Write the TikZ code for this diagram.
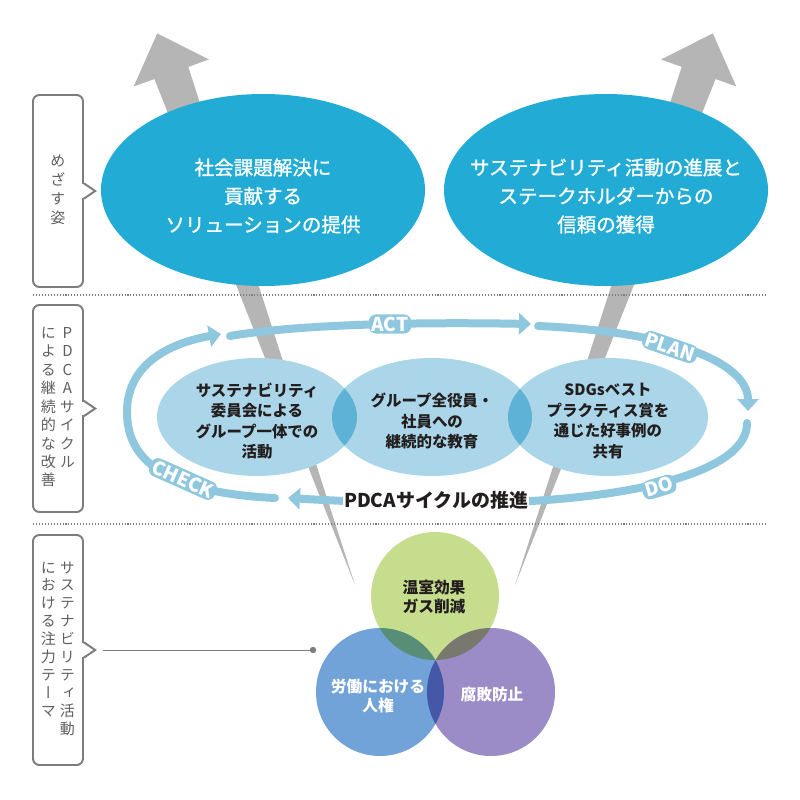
\documentclass[tikz,border=0pt]{standalone}
\usepackage{fontspec}
\setmainfont{Noto Sans CJK JP}
\newfontfamily\vjp[RawFeature=+vert]{Noto Sans CJK JP}
\newfontfamily\jpmed[FakeBold=1.2]{Noto Sans CJK JP}
\usetikzlibrary{shapes.geometric,arrows.meta}

\definecolor{goalblue}{RGB}{34,172,213}
\definecolor{actblue}{RGB}{171,214,234}
\definecolor{lapblue}{RGB}{94,178,214}
\definecolor{cycblue}{RGB}{142,199,222}
\definecolor{wedge}{RGB}{181,181,181}
\definecolor{tagline}{RGB}{125,125,125}
\definecolor{tagtext}{RGB}{95,95,95}
\definecolor{ghgcol}{RGB}{198,221,142}
\definecolor{laborcol}{RGB}{114,163,216}
\definecolor{graftcol}{RGB}{155,139,198}
\definecolor{ink}{RGB}{35,30,30}

\begin{document}
\begin{tikzpicture}[x=0.25mm, y=-0.25mm,
        goal/.style = {ellipse, fill=goalblue, minimum width=81mm, minimum height=48mm, inner sep=0},
        goaltext/.style = {text=white, align=center, font=\jpmed\fontsize{13.9pt}{20.3pt}\selectfont},
        act/.style = {ellipse, fill=actblue, minimum width=50mm, minimum height=29.5mm, inner sep=0},
        acttext/.style = {text=ink, align=center, font=\fontsize{11pt}{14.6pt}\selectfont\bfseries},
        cyc/.style = {draw=cycblue, line width=2mm, line cap=round, -{Triangle[width=5.3mm, length=3mm]}},
        cyclabel/.style = {fill=cycblue, text=white, rounded corners=1.8mm, inner xsep=2pt, inner ysep=1.6pt, font=\fontsize{13.5pt}{13.5pt}\selectfont\bfseries},
        theme/.style = {circle, minimum size=32mm, inner sep=0},
        themetext/.style = {align=center, font=\fontsize{11.2pt}{14.2pt}\selectfont\bfseries},
        tag/.style = {draw=tagline, line width=1.4pt, rounded corners=1.6mm, minimum width=12.5mm, inner sep=0, text=tagtext},
        sep/.style = {draw=tagline, line width=0.8pt, dash pattern=on 0.75pt off 1.35pt},
        lead/.style = {draw=tagline, line width=0.7pt},
        pin/.style = {circle, fill=tagline, inner sep=0, minimum size=1.6mm}]
    \useasboundingbox (0,0) rectangle (800,800);

    % grey arrows behind everything
    \begin{scope}[shift={(355,585)}, rotate=109.73]
        \fill[wedge] (0,0) -- (544,18) -- (544,40) -- (586,0) -- (544,-40) -- (544,-18) -- cycle;
    \end{scope}
    \begin{scope}[shift={(515,585)}, rotate=70.27]
        \fill[wedge] (0,0) -- (544,18) -- (544,40) -- (586,0) -- (544,-40) -- (544,-18) -- cycle;
    \end{scope}

    \draw[sep] (33,295) -- (768,295);
    \draw[sep] (33,524) -- (768,524);

    % goals
    \node[goal] (goalL) at (263,190) {};
    \node[goal] (goalR) at (606,190) {};
    \node[goaltext] (goalLtext) at (263,196) {社会課題解決に\\貢献する\\ソリューションの提供};
    \node[goaltext] (goalRtext) at (606,196) {サステナビリティ活動の進展と\\ステークホルダーからの\\信頼の獲得};

    % PDCA
    \node[act] (actL) at (257,417) {};
    \node[act] (actM) at (432,417) {};
    \node[act] (actR) at (608,417) {};
    \begin{scope}
        \clip (actL.center) ellipse [x radius=25mm, y radius=14.75mm];
        \fill[lapblue] (actM.center) ellipse [x radius=25mm, y radius=14.75mm];
    \end{scope}
    \begin{scope}
        \clip (actM.center) ellipse [x radius=25mm, y radius=14.75mm];
        \fill[lapblue] (actR.center) ellipse [x radius=25mm, y radius=14.75mm];
    \end{scope}
    \node[acttext] (actLtext) at (257,421) {サステナビリティ\\委員会による\\グループ一体での\\活動};
    \node[acttext] (actMtext) at (432,421) {グループ全役員・\\社員への\\継続的な教育};
    \node[acttext] (actRtext) at (608,421) {SDGsベスト\\プラクティス賞を\\通じた好事例の\\共有};

    \draw[cyc] (230,336) .. controls (300,324) and (420,322) .. (531,324);
    \draw[cyc] (538,326) .. controls (680,332) and (748,365) .. (748,411);
    \draw[cyc] (747,423) .. controls (748,470) and (640,500) .. (480,503) .. controls (400,504) and (340,501) .. (288,498);
    \draw[cyc] (275,498) .. controls (150,492) and (127,450) .. (127,412) .. controls (127,370) and (160,345) .. (221,334);
    \node[cyclabel] (act) at (390,324) {ACT};
    \node[cyclabel, rotate=-19] (plan) at (670,347) {PLAN};
    \node[cyclabel, rotate=17] (do) at (659,487) {DO};
    \node[cyclabel, rotate=-24] (check) at (183,479) {CHECK};
    \node[fill=white, text=ink, inner xsep=1pt, inner ysep=0.5pt, font=\fontsize{13.5pt}{13.5pt}\selectfont\bfseries] (pdca) at (436,500) {PDCAサイクルの推進};

    % themes
    \begin{scope}[blend group=multiply]
        \node[theme, fill=ghgcol] (ghg) at (435,596) {};
        \node[theme, fill=laborcol] (labor) at (380,692) {};
        \node[theme, fill=graftcol] (graft) at (491,692) {};
    \end{scope}
    \node[themetext, text=ink] (ghgtext) at (434,597) {温室効果\\ガス削減};
    \node[themetext, text=white] (labortext) at (378,696) {労働における\\人権};
    \node[themetext, text=white] (grafttext) at (492,695) {腐敗防止};

    % side tags
    \node[tag, minimum height=48mm, font=\vjp\fontsize{10.7pt}{13.5pt}\selectfont] (tagA) at (58,191)
        {\begin{tabular}{@{}c@{}}め\\ざ\\す\\姿\end{tabular}};
    \node[tag, minimum height=51.75mm, font=\vjp\fontsize{10.7pt}{13.1pt}\selectfont] (tagB) at (58,408.5)
        {\begin{tabular}{@{}c@{\hspace{2.8pt}}c@{}}に&P\\よ&D\\る&C\\継&A\\続&サ\\的&イ\\な&ク\\改&ル\\善&\end{tabular}};
    \node[tag, minimum height=57.5mm, font=\vjp\fontsize{10.7pt}{12.7pt}\selectfont] (tagC) at (58,650)
        {\begin{tabular}{@{}c@{\hspace{2.8pt}}c@{}}に&サ\\お&ス\\け&テ\\る&ナ\\注&ビ\\力&リ\\テ&テ\\ー&ィ\\マ&活\\&動\end{tabular}};
    \fill[white] ([xshift=-1.2pt, yshift=1.7mm]tagA.east) rectangle ([xshift=1.2pt, yshift=-1.7mm]tagA.east);
    \fill[white] ([xshift=-1.2pt, yshift=1.7mm]tagB.east) rectangle ([xshift=1.2pt, yshift=-1.7mm]tagB.east);
    \fill[white] ([xshift=-1.2pt, yshift=1.7mm]tagC.east) rectangle ([xshift=1.2pt, yshift=-1.7mm]tagC.east);
    \draw[tagline, line width=1.4pt] ([yshift=1.9mm]tagA.east) -- ([xshift=2.8mm]tagA.east) -- ([yshift=-1.9mm]tagA.east);
    \draw[tagline, line width=1.4pt] ([yshift=1.9mm]tagB.east) -- ([xshift=2.8mm]tagB.east) -- ([yshift=-1.9mm]tagB.east);
    \draw[tagline, line width=1.4pt] ([yshift=1.9mm]tagC.east) -- ([xshift=2.8mm]tagC.east) -- ([yshift=-1.9mm]tagC.east);

    \coordinate (tagCtip) at ([xshift=2.8mm]tagC.east);
    \node[pin] (pin) at (313,650) {};
    \draw[lead] ([xshift=2mm]tagCtip) -- (pin);
\end{tikzpicture}
\end{document}
